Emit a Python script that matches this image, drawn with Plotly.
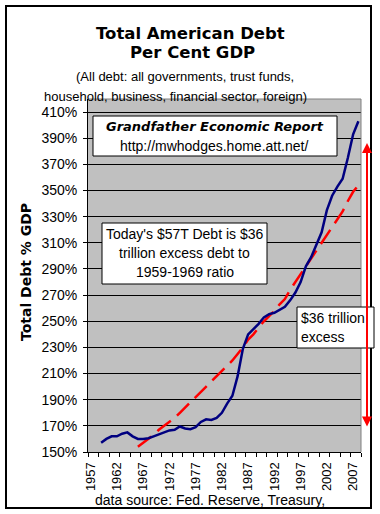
import plotly.graph_objects as go

# ---- data ----
years_debt = list(range(1959, 2009))
debt_pct = [157, 160, 162, 162, 164, 165, 162, 160, 160, 160.5,
            162, 163.5, 165, 166.5, 167, 169.5, 168, 167.5, 169, 173,
            175, 174.5, 176, 180, 187, 193, 208, 229, 240, 244,
            248, 253, 255.5, 256.5, 259, 261, 266, 272, 280, 292,
            299, 309, 318, 335, 346, 353, 359, 375, 393, 403]

years_trend = list(range(1966, 2009))
trend_pct = [154, 157, 160, 163, 167, 170, 173, 176, 180, 184,
             188, 192, 196, 200, 204, 208, 212, 216, 220, 225,
             230, 236, 240, 245, 250, 254, 258, 263, 267, 274,
             280, 286, 292, 297, 303, 309, 315, 322, 328, 334,
             342, 349, 354]

y_ticks = list(range(150, 411, 20))
y_labels = [f"{v}%" for v in y_ticks]
x_ticks = list(range(1957, 2008, 5))
x_labels = [str(v) for v in x_ticks]

# ---- geometry helpers (pixel -> paper) ----
W, H = 380, 514
L, R, T, B = 88, 361, 99, 452


def px(x):
    return (x - L) / (R - L)


def py(y):
    return (B - y) / (B - T)


fig = go.Figure()
fig.add_trace(go.Scatter(x=years_trend, y=trend_pct, mode="lines",
                         line=dict(color="#FF0000", width=2.5, dash="17px,8px"),
                         hoverinfo="skip", showlegend=False))
fig.add_trace(go.Scatter(x=years_debt, y=debt_pct, mode="lines",
                         line=dict(color="#000080", width=2.5),
                         hoverinfo="skip", showlegend=False))

ARIAL = "Liberation Sans, Arial, sans-serif"
DEJA = "DejaVu Sans, sans-serif"

fig.update_layout(
    width=W, height=H,
    margin=dict(l=L, r=W - R, t=T, b=H - B),
    paper_bgcolor="white",
    plot_bgcolor="#C0C0C0",
    showlegend=False,
    xaxis=dict(range=[1956.5, 2008.5], tickvals=x_ticks, ticktext=x_labels,
               tickangle=-90, ticks="", showgrid=False, zeroline=False,
               showline=True, linecolor="black", linewidth=1,
               ticklabelstandoff=4,
               tickfont=dict(family=ARIAL, size=13, color="black"),
               minor=dict(ticks="outside", tick0=1956.5, dtick=2, ticklen=4,
                          tickcolor="black", tickwidth=1, showgrid=False)),
    yaxis=dict(range=[150, 420], tickvals=y_ticks, ticktext=y_labels,
               ticks="outside", ticklen=4, tickcolor="black",
               showgrid=True, gridcolor="black", gridwidth=1, zeroline=False,
               showline=True, linecolor="black", linewidth=1,
               ticklabelstandoff=3,
               tickfont=dict(family=ARIAL, size=14, color="black")),
)

shapes = []
# outer chart border
shapes.append(dict(type="rect", xref="paper", yref="paper",
                   x0=px(6), x1=px(371), y0=py(508), y1=py(6),
                   line=dict(color="black", width=2), fillcolor="rgba(0,0,0,0)"))
# gray outline of plot area (top & right)
shapes.append(dict(type="line", xref="paper", yref="paper", x0=0, x1=1, y0=1, y1=1,
                   line=dict(color="#808080", width=1)))
shapes.append(dict(type="line", xref="paper", yref="paper", x0=1, x1=1, y0=0, y1=1,
                   line=dict(color="#808080", width=1)))
# text boxes
for (x0, y0, x1, y1) in [(93, 116, 337, 156), (102, 223, 267, 284), (297, 307, 374, 348)]:
    shapes.append(dict(type="rect", xref="paper", yref="paper", layer="above",
                       x0=px(x0), x1=px(x1), y0=py(y1), y1=py(y0),
                       line=dict(color="black", width=1), fillcolor="white"))
fig.update_layout(shapes=shapes)

ann = []


def text(x, y, s, size, family=ARIAL, xanchor="center"):
    ann.append(dict(x=px(x), y=py(y), xref="paper", yref="paper", text=s,
                    showarrow=False, xanchor=xanchor, yanchor="middle",
                    font=dict(family=family, size=size, color="black")))


text(190, 33, "<b>Total American Debt</b>", 16.5, DEJA)
text(192, 53, "<b>Per Cent GDP</b>", 16.5, DEJA)
text(185, 76, "(All debt: all governments, trust funds,", 13)
text(175, 97, "household, business, financial sector, foreign)", 13)
text(215, 126.5, "<b><i>Grandfather Economic Report</i></b>", 13, DEJA)
text(214, 146, "http://mwhodges.home.att.net/", 14)
text(184.5, 234, "Today's $57T Debt is $36", 14)
text(184.5, 253, "trillion excess debt to", 14)
text(184.5, 272, "1959-1969 ratio", 14)
text(299, 318, "$36 trillion", 14, xanchor="left")
text(299, 337, "excess", 14, xanchor="left")
text(210, 500, "data source: Fed. Reserve, Treasury,", 14)
ann.append(dict(x=px(26), y=py(272), xref="paper", yref="paper",
                text="<b>Total Debt % GDP</b>", textangle=-90, showarrow=False,
                xanchor="center", yanchor="middle",
                font=dict(family=DEJA, size=14, color="black")))
# red double arrow
ann.append(dict(x=px(367), y=py(143), xref="paper", yref="paper", text="",
                showarrow=True, ax=0, ay=285, axref="pixel", ayref="pixel",
                arrowcolor="#FF0000", arrowwidth=2, arrowhead=2, startarrowhead=2,
                arrowside="end+start", arrowsize=1, startarrowsize=1, standoff=0,
                startstandoff=0))
fig.update_layout(annotations=ann)

fig.write_html("out.html",
               config=dict(displayModeBar=False, staticPlot=True),
               post_script="document.body.style.margin='0';document.body.style.overflow='hidden';")
